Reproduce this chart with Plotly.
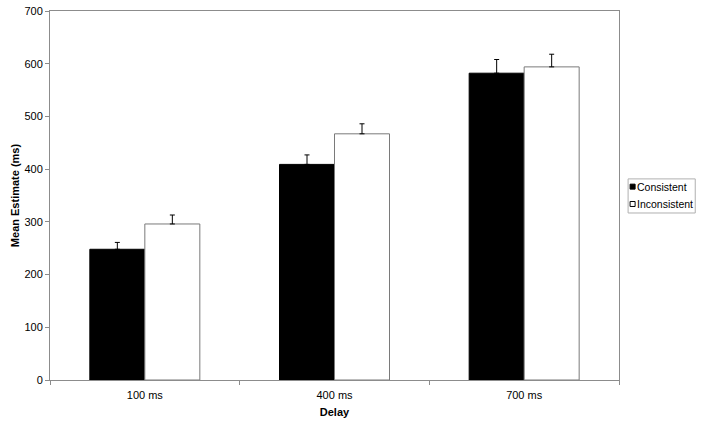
import plotly.graph_objects as go

categories = ["100 ms", "400 ms", "700 ms"]
series_names = ["Consistent", "Inconsistent"]
consistent = [248, 409, 582]
consistent_err = [13, 18, 26]
inconsistent = [296, 467, 594]
inconsistent_err = [17, 19, 24]
y_ticks = [0, 100, 200, 300, 400, 500, 600, 700]

FONT = "Liberation Sans, Arial, sans-serif"
AX = "#8c8c8c"

fig = go.Figure()
fig.add_trace(go.Bar(
    x=categories, y=consistent, name=series_names[0],
    marker=dict(color="black", line=dict(color="black", width=1)),
    error_y=dict(type="data", array=consistent_err, symmetric=False,
                 arrayminus=[0, 0, 0], color="black", thickness=1, width=2.5),
    showlegend=False,
))
fig.add_trace(go.Bar(
    x=categories, y=inconsistent, name=series_names[1],
    marker=dict(color="white", line=dict(color="#7a7a7a", width=1)),
    error_y=dict(type="data", array=inconsistent_err, symmetric=False,
                 arrayminus=[0, 0, 0], color="black", thickness=1, width=2.5),
    showlegend=False,
))

# custom compact legend (Excel style)
lx0, lx1, ly0, ly1 = 1.016, 1.134, 0.4526, 0.545
fig.add_shape(type="rect", xref="paper", yref="paper", x0=lx0, x1=lx1, y0=ly0, y1=ly1,
              line=dict(color="#b0b0b0", width=1), fillcolor="white")
sq_w, sq_h = 0.0088, 0.0135
for i, (name, fill) in enumerate(zip(series_names, ["black", "white"])):
    cy = 0.524 - i * 0.047
    fig.add_shape(type="rect", xref="paper", yref="paper",
                  x0=lx0 + 0.0035, x1=lx0 + 0.0035 + sq_w, y0=cy - sq_h / 2, y1=cy + sq_h / 2,
                  line=dict(color="black", width=1), fillcolor=fill)
    fig.add_annotation(xref="paper", yref="paper", x=lx0 + 0.0035 + sq_w, y=cy,
                       text=name, showarrow=False, xanchor="left", yanchor="middle",
                       font=dict(family=FONT, size=10.5, color="black"))

fig.update_layout(
    width=707, height=424,
    margin=dict(l=50, r=88, t=11, b=44),
    paper_bgcolor="white", plot_bgcolor="white",
    barmode="group", bargap=0.42, bargroupgap=0,
    font=dict(family=FONT, size=11, color="black"),
    xaxis=dict(
        type="category", tickson="boundaries", ticks="outside", ticklen=4, tickcolor=AX,
        showline=True, linecolor=AX, linewidth=1, mirror=True, showgrid=False,
        automargin=False, ticklabelstandoff=5,
        tickfont=dict(family=FONT, size=11),
        title=dict(text="<b>Delay</b>", font=dict(family=FONT, size=11), standoff=8),
    ),
    yaxis=dict(
        range=[0, 700], tickvals=y_ticks, ticks="outside", ticklen=4, tickcolor=AX,
        showline=True, linecolor=AX, linewidth=1, mirror=True, showgrid=False, zeroline=False,
        automargin=False,
        tickfont=dict(family=FONT, size=11),
        title=dict(text="<b>Mean Estimate (ms)</b>", font=dict(family=FONT, size=11), standoff=2),
    ),
)

fig.write_html("out.html", config={"displayModeBar": False},
               post_script="document.body.style.margin='0';")
